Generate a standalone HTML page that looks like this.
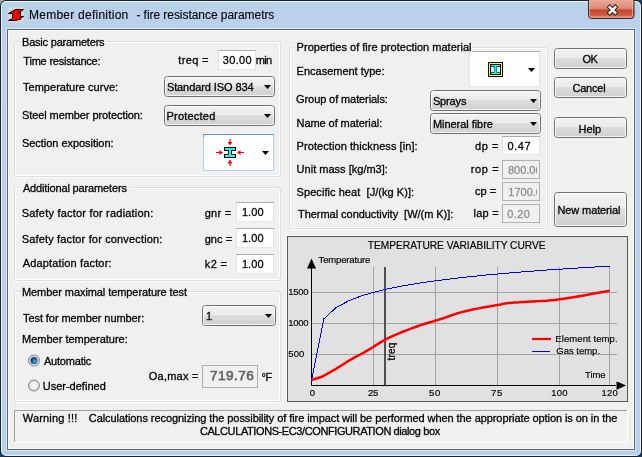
<!DOCTYPE html>
<html><head><meta charset="utf-8"><title>Member definition</title>
<style>
html,body{margin:0;padding:0;background:#1d3b5e;width:642px;height:457px;overflow:hidden}
svg{display:block}
text{font-family:"Liberation Sans",sans-serif;fill:#000;white-space:pre;stroke:#000;stroke-width:0.35px;stroke-opacity:0.8}
</style></head><body>
<svg width="642" height="457" viewBox="0 0 642 457">
<defs>
<linearGradient id="gFrame" x1="0" y1="0" x2="0" y2="1">
<stop offset="0" stop-color="#b6d5e6"/><stop offset="0.008" stop-color="#b6d4e6"/><stop offset="0.012" stop-color="#bad0ea"/><stop offset="0.02" stop-color="#b9d1ea"/><stop offset="1" stop-color="#b9d0ea"/></linearGradient>
<linearGradient id="gBtn" x1="0" y1="0" x2="0" y2="1">
<stop offset="0" stop-color="#f2f2f2"/><stop offset="0.45" stop-color="#ebebeb"/><stop offset="0.5" stop-color="#dddddd"/><stop offset="1" stop-color="#cfcfcf"/></linearGradient>
<linearGradient id="gClose" x1="0" y1="0" x2="0" y2="1">
<stop offset="0" stop-color="#e9a99a"/><stop offset="0.45" stop-color="#d98a78"/><stop offset="0.55" stop-color="#c7462c"/><stop offset="0.8" stop-color="#d0583e"/><stop offset="1" stop-color="#e08c78"/></linearGradient>
<radialGradient id="gRad" cx="0.5" cy="0.5" r="0.5">
<stop offset="0" stop-color="#fbfbfb"/><stop offset="0.6" stop-color="#f0f0f0"/><stop offset="1" stop-color="#d2d2d2"/></radialGradient>
<radialGradient id="gDot" cx="0.6" cy="0.6" r="0.6">
<stop offset="0" stop-color="#5db4ec"/><stop offset="0.55" stop-color="#16619f"/><stop offset="1" stop-color="#0c3a6e"/></radialGradient>
<clipPath id="c_rop"><rect x="503" y="160" width="34" height="19"/></clipPath>
<clipPath id="c_cp"><rect x="503" y="182" width="34" height="19"/></clipPath>
</defs>
<rect width="642" height="457" fill="#1d3b5e"/><path d="M0,0h8v8h-8z" fill="#a9aca8"/><rect x="0" y="0" width="642" height="457" rx="6" fill="#1b232c"/><rect x="1" y="1" width="640" height="455" rx="5" fill="#eaf3fb"/><rect x="2" y="2" width="638" height="453" rx="4" fill="url(#gFrame)"/><rect x="6" y="28" width="630" height="423" fill="#d9e8f6"/><rect x="7" y="29" width="628" height="421" fill="#5b6778"/><rect x="8" y="30" width="626" height="419" fill="#fbfbfb"/><rect x="9" y="31" width="624" height="417" fill="#f0f0f0"/><g transform="translate(8,7)"><rect width="16" height="16" fill="#d3d6da"/><path d="M4.5,5.5h8v7h-8z" fill="#f00" stroke="#000"/><path d="M7.5,2.5h8l-6,4h-9z" fill="#f00" stroke="#000" stroke-linejoin="bevel"/><path d="M8.5,9.5h7l-7,4h-8z" fill="#f00" stroke="#000" stroke-linejoin="bevel"/><path d="M5,6.2h7v5.6h-7z" fill="#f00"/></g><path d="M588.5,0V15.5a3,3 0 0 0 3,3H631a3,3 0 0 0 3,-3V0" fill="url(#gClose)" stroke="#3a2624"/><path d="M589.5,1V15a2,2 0 0 0 2,2H630.5a2,2 0 0 0 2,-2V1" fill="none" stroke="#f2c4b6" stroke-opacity="0.6"/><path d="M608.2,5.6L616.8,14.4M616.8,5.6L608.2,14.4" fill="none" stroke="#3a2220" stroke-width="4.4"/><path d="M608.9,6.3L616.1,13.7M616.1,6.3L608.9,13.7" fill="none" stroke="#fff" stroke-width="2.4"/><rect x="15.5" y="42.5" width="264" height="133" rx="1.5" fill="none" stroke="#ffffff"/><path d="M15,177.5H280" stroke="#fafcfd"/><rect x="14.5" y="41.5" width="266" height="135" rx="2" fill="none" stroke="#d8e0e6"/><rect x="20" y="40" width="87" height="4" fill="#f0f0f0"/><rect x="15.5" y="188.5" width="264" height="91" rx="1.5" fill="none" stroke="#ffffff"/><path d="M15,281.5H280" stroke="#fafcfd"/><rect x="14.5" y="187.5" width="266" height="93" rx="2" fill="none" stroke="#d8e0e6"/><rect x="20" y="186" width="110" height="4" fill="#f0f0f0"/><rect x="15.5" y="292.5" width="264" height="108" rx="1.5" fill="none" stroke="#ffffff"/><path d="M15,402.5H280" stroke="#fafcfd"/><rect x="14.5" y="291.5" width="266" height="110" rx="2" fill="none" stroke="#d8e0e6"/><rect x="20" y="290" width="169" height="4" fill="#f0f0f0"/><rect x="290.5" y="48.5" width="256" height="179" rx="1.5" fill="none" stroke="#ffffff"/><path d="M290,229.5H547" stroke="#fafcfd"/><rect x="289.5" y="47.5" width="258" height="181" rx="2" fill="none" stroke="#d8e0e6"/><rect x="295" y="46" width="177" height="4" fill="#f0f0f0"/><rect x="218" y="50" width="38" height="20" fill="#fff"/><path d="M218,50.5h38" stroke="#abadb3"/><path d="M218.5,51v19M255.5,51v19" stroke="#e2e3ea"/><path d="M219,69.5h36" stroke="#e3e9ef"/><rect x="164.5" y="76.5" width="110" height="20" rx="3" fill="url(#gBtn)" stroke="#707070"/><rect x="165.5" y="77.5" width="108" height="18" rx="2" fill="none" stroke="#fcfcfc" stroke-opacity="0.8"/><path d="M264,85h7l-3.5,4z" fill="#000"/><rect x="164.5" y="105.5" width="110" height="20" rx="3" fill="url(#gBtn)" stroke="#707070"/><rect x="165.5" y="106.5" width="108" height="18" rx="2" fill="none" stroke="#fcfcfc" stroke-opacity="0.8"/><path d="M264,114h7l-3.5,4z" fill="#000"/><rect x="203" y="134" width="71" height="37" fill="#fff"/><path d="M203.5,135V170.5H273.5V135" fill="none" stroke="#b7d0e8"/><path d="M203,134.5H274" stroke="#5f98d0"/><path d="M203.5,134v3" stroke="#7890a8"/><path d="M262,151h7l-3.5,4z" fill="#000"/><g shape-rendering="crispEdges"><rect x="224" y="147" width="12" height="4" fill="#000"/><rect x="224" y="154" width="12" height="4" fill="#000"/><rect x="228" y="151" width="4" height="3" fill="#000"/><rect x="225" y="148" width="10" height="2" fill="#0ff"/><rect x="225" y="155" width="10" height="2" fill="#0ff"/><rect x="229" y="149" width="2" height="7" fill="#0ff"/></g><path d="M230,139v4M230,160v6M216,152.5h4M240,152.5h4" stroke="#f00" stroke-width="1.2"/><path d="M227.5,142h5l-2.5,3.5z M227.5,163.5h5l-2.5,-3.5z M219.5,150l3.5,2.5l-3.5,2.5z M240.5,150l-3.5,2.5l3.5,2.5z" fill="#f00"/><rect x="236" y="202" width="38" height="20" fill="#fff"/><path d="M236,202.5h38" stroke="#abadb3"/><path d="M236.5,203v19M273.5,203v19" stroke="#e2e3ea"/><path d="M237,221.5h36" stroke="#e3e9ef"/><rect x="236" y="228" width="38" height="20" fill="#fff"/><path d="M236,228.5h38" stroke="#abadb3"/><path d="M236.5,229v19M273.5,229v19" stroke="#e2e3ea"/><path d="M237,247.5h36" stroke="#e3e9ef"/><rect x="236" y="254" width="38" height="20" fill="#fff"/><path d="M236,254.5h38" stroke="#abadb3"/><path d="M236.5,255v19M273.5,255v19" stroke="#e2e3ea"/><path d="M237,273.5h36" stroke="#e3e9ef"/><rect x="202.5" y="305.5" width="73" height="20" rx="3" fill="url(#gBtn)" stroke="#707070"/><rect x="203.5" y="306.5" width="71" height="18" rx="2" fill="none" stroke="#fcfcfc" stroke-opacity="0.8"/><path d="M265,314h7l-3.5,4z" fill="#000"/><circle cx="34" cy="360.5" r="5.5" fill="url(#gRad)" stroke="#848585"/><circle cx="34" cy="360.5" r="4.5" fill="none" stroke="#c4c4c4" stroke-opacity="0.7"/><circle cx="34" cy="360.5" r="3.5" fill="url(#gDot)"/><circle cx="34" cy="385.5" r="5.5" fill="url(#gRad)" stroke="#848585"/><circle cx="34" cy="385.5" r="4.5" fill="none" stroke="#c4c4c4" stroke-opacity="0.7"/><rect x="202.5" y="365.5" width="55" height="22" fill="#f0f0f0" stroke="#adb2b5"/><rect x="469" y="51" width="71" height="36" fill="#fff"/><path d="M469,51.5h71" stroke="#abadb3"/><path d="M469.5,52v35M539.5,52v35" stroke="#e2e3ea"/><path d="M470,86.5h69" stroke="#e3e9ef"/><rect x="469" y="50" width="3" height="2" fill="#f0f0f0"/><g><rect x="488" y="62" width="15" height="15" fill="#000"/><rect x="489" y="63" width="13" height="13" fill="#ff0"/><rect x="490" y="64" width="11" height="11" fill="#000"/><rect x="491" y="65" width="9" height="1.3" fill="#0ff"/><rect x="491" y="72.7" width="9" height="1.3" fill="#0ff"/><rect x="494.4" y="66" width="2.2" height="7" fill="#0ff"/><rect x="491" y="67" width="3" height="5" fill="#efe5e5"/><rect x="497" y="67" width="3" height="5" fill="#efe5e5"/></g><path d="M528,68h7l-3.5,4z" fill="#000"/><rect x="430.5" y="90.5" width="110" height="20" rx="3" fill="url(#gBtn)" stroke="#707070"/><rect x="431.5" y="91.5" width="108" height="18" rx="2" fill="none" stroke="#fcfcfc" stroke-opacity="0.8"/><path d="M530,99h7l-3.5,4z" fill="#000"/><rect x="430.5" y="113.5" width="110" height="20" rx="3" fill="url(#gBtn)" stroke="#707070"/><rect x="431.5" y="114.5" width="108" height="18" rx="2" fill="none" stroke="#fcfcfc" stroke-opacity="0.8"/><path d="M530,122h7l-3.5,4z" fill="#000"/><rect x="502" y="136" width="38" height="19" fill="#fff"/><path d="M502,136.5h38" stroke="#abadb3"/><path d="M502.5,137v18M539.5,137v18" stroke="#e2e3ea"/><path d="M503,154.5h36" stroke="#e3e9ef"/><rect x="502.5" y="160.5" width="37" height="18" fill="#f0f0f0" stroke="#adb2b5"/><rect x="502.5" y="182.5" width="37" height="18" fill="#f0f0f0" stroke="#adb2b5"/><rect x="502.5" y="204.5" width="37" height="18" fill="#f0f0f0" stroke="#adb2b5"/><rect x="554.5" y="48.5" width="72" height="20" rx="3" fill="url(#gBtn)" stroke="#707070"/><rect x="555.5" y="49.5" width="70" height="18" rx="2" fill="none" stroke="#fcfcfc" stroke-opacity="0.8"/><rect x="554.5" y="77.5" width="72" height="20" rx="3" fill="url(#gBtn)" stroke="#707070"/><rect x="555.5" y="78.5" width="70" height="18" rx="2" fill="none" stroke="#fcfcfc" stroke-opacity="0.8"/><rect x="554.5" y="117.5" width="72" height="20" rx="3" fill="url(#gBtn)" stroke="#707070"/><rect x="555.5" y="118.5" width="70" height="18" rx="2" fill="none" stroke="#fcfcfc" stroke-opacity="0.8"/><rect x="554.5" y="192.5" width="72" height="34" rx="3" fill="url(#gBtn)" stroke="#707070"/><rect x="555.5" y="193.5" width="70" height="32" rx="2" fill="none" stroke="#fcfcfc" stroke-opacity="0.8"/><path d="M286.5,402V235.5H628" fill="none" stroke="#fafafa"/><rect x="287.5" y="236.5" width="340" height="165" fill="#e1e1e1" stroke="#575757"/><path d="M373.5,267V385M435.5,267V385M497.5,267V385M559.5,267V385M609.5,267V385M311,292.5H617M311,323.5H617M311,354.5H617" stroke="#a3a3a3" fill="none"/><path d="M384,267h2v118h-2z" fill="#505050"/><path d="M311.5,268V385.5H616" fill="none" stroke="#000"/><path d="M307,268.5h9l-4.5,-10z M616,381h0.5v9h-0.5l10,-4.5z" fill="#000"/><polyline points="311.4,381.0 323.8,318.9 336.2,307.5 348.7,300.8 361.1,296.0 373.5,292.3 385.9,289.3 398.4,286.7 410.8,284.5 423.2,282.5 435.6,280.8 448.1,279.2 460.5,277.7 472.9,276.4 485.3,275.1 497.8,274.0 510.2,272.9 522.6,271.9 535.0,270.9 547.5,270.0 559.9,269.2 572.3,268.4 584.8,267.6 597.2,266.9 609.6,266.1" fill="none" stroke="#0000ff" stroke-width="1" shape-rendering="crispEdges"/><polyline points="311.4,380.0 322.0,376.7 323.0,376.1 324.4,375.4 326.1,374.5 327.9,373.4 329.8,372.4 331.8,371.2 333.8,370.1 335.7,369.0 337.5,367.9 339.4,366.7 341.3,365.5 343.2,364.3 345.2,363.1 347.1,361.8 349.1,360.6 351.0,359.5 352.9,358.4 354.7,357.4 356.6,356.4 358.4,355.5 360.3,354.5 362.2,353.5 364.2,352.4 366.3,351.2 368.5,349.9 370.8,348.5 373.2,347.0 375.7,345.4 378.1,343.9 380.5,342.4 382.8,341.0 385.0,339.8 387.0,338.7 388.9,337.8 390.7,336.9 392.4,336.1 394.2,335.3 396.0,334.6 397.9,333.8 400.0,332.9 402.3,332.0 404.6,331.0 407.1,330.1 409.7,329.1 412.3,328.1 414.9,327.2 417.5,326.3 420.0,325.4 422.5,324.6 425.0,323.8 427.5,323.0 430.0,322.3 432.5,321.6 435.0,320.8 437.5,320.1 440.0,319.3 442.5,318.5 445.0,317.6 447.5,316.7 450.0,315.9 452.5,315.0 455.0,314.1 457.5,313.3 460.0,312.6 462.5,311.9 465.1,311.3 467.6,310.7 470.2,310.1 472.7,309.6 475.2,309.1 477.6,308.6 480.0,308.1 482.3,307.6 484.6,307.2 486.9,306.8 489.2,306.4 491.3,306.0 493.4,305.7 495.5,305.3 497.4,305.0 499.2,304.7 500.7,304.4 502.2,304.1 503.5,303.8 504.9,303.6 506.4,303.3 508.1,303.1 510.0,302.9 512.1,302.7 514.3,302.5 516.5,302.4 518.9,302.3 521.5,302.1 524.1,302.0 527.0,301.8 530.0,301.6 533.1,301.4 536.3,301.2 539.5,301.1 543.0,300.9 546.7,300.7 550.6,300.3 555.0,299.9 559.7,299.3 565.3,298.5 571.9,297.4 579.1,296.2 586.5,294.9 593.7,293.6 600.2,292.5 605.6,291.5 609.6,290.8" fill="none" stroke="#ff0000" stroke-width="2.5" stroke-linejoin="round"/><path d="M532,339h19" stroke="#f00" stroke-width="2.2"/><path d="M532,351.5h18" stroke="#00f" stroke-width="1"/><text transform="translate(395.2,360.5) rotate(-90)" style="font-size:10px;letter-spacing:0.2px">treq</text><path d="M14.5,442V410.5H627" fill="none" stroke="#a0a0a0"/><path d="M14,442.5H627.5V410" fill="none" stroke="#ffffff"/>
<text x="29.00" y="19" style="font-size:12px;letter-spacing:0.244px;stroke:#000;stroke-width:0.12px">Member definition</text>
<text x="136.40" y="19" style="font-size:12px;letter-spacing:-0.054px;stroke:#000;stroke-width:0.12px">- fire resistance parametrs</text>
<text x="22.00" y="46" style="font-size:11px;letter-spacing:-0.200px">Basic parameters</text>
<text x="23.30" y="65" style="font-size:11px;letter-spacing:-0.200px">Time resistance:</text>
<text x="178.30" y="64" style="font-size:11px;letter-spacing:0.340px">treq =</text>
<text x="222.70" y="64" style="font-size:11px;letter-spacing:0.375px">30.00</text>
<text x="255.70" y="64" style="font-size:11px;letter-spacing:-0.600px">min</text>
<text x="23.00" y="91" style="font-size:11px;letter-spacing:0.024px">Temperature curve:</text>
<text x="166.90" y="91" style="font-size:11px;letter-spacing:-0.093px">Standard ISO 834</text>
<text x="22.00" y="119" style="font-size:11px;letter-spacing:-0.087px">Steel member protection:</text>
<text x="166.50" y="120" style="font-size:11px;letter-spacing:0.213px">Protected</text>
<text x="22.00" y="147" style="font-size:11px;letter-spacing:-0.044px">Section exposition:</text>
<text x="22.90" y="192" style="font-size:11px;letter-spacing:-0.150px">Additional parameters</text>
<text x="21.70" y="217" style="font-size:11px;letter-spacing:0.207px">Safety factor for radiation:</text>
<text x="21.70" y="243" style="font-size:11px;letter-spacing:0.154px">Safety factor for convection:</text>
<text x="22.70" y="267" style="font-size:11px;letter-spacing:0.153px">Adaptation factor:</text>
<text x="204.70" y="217" style="font-size:11px;letter-spacing:0.275px">gnr =</text>
<text x="204.70" y="243" style="font-size:11px;letter-spacing:0.050px">gnc =</text>
<text x="204.80" y="268" style="font-size:11px;letter-spacing:0.367px">k2 =</text>
<text x="241.90" y="216" style="font-size:11px;letter-spacing:0.100px">1.00</text>
<text x="241.90" y="242" style="font-size:11px;letter-spacing:0.100px">1.00</text>
<text x="241.90" y="268" style="font-size:11px;letter-spacing:0.100px">1.00</text>
<text x="22.00" y="296" style="font-size:11px;letter-spacing:-0.080px">Member maximal temperature test</text>
<text x="23.00" y="322" style="font-size:11px;letter-spacing:-0.073px">Test for member number:</text>
<text x="206.10" y="320" style="font-size:11px">1</text>
<text x="22.00" y="343" style="font-size:11px">Member temperature:</text>
<text x="44.00" y="365" style="font-size:11px;letter-spacing:-0.213px">Automatic</text>
<text x="42.70" y="390" style="font-size:11px;letter-spacing:0.009px">User-defined</text>
<text x="148.80" y="380" style="font-size:11px;letter-spacing:0.229px">Oa,max =</text>
<text x="209.90" y="380" style="font-size:13.6px;letter-spacing:0.480px;fill:#606060;stroke:#606060;stroke-width:0.75px">719.76</text>
<text x="261.60" y="381" style="font-size:11px">°</text>
<text x="265.60" y="381" style="font-size:11px">F</text>
<text x="296.60" y="51" style="font-size:11px;letter-spacing:0.019px">Properties of fire protection material</text>
<text x="296.60" y="75" style="font-size:11px;letter-spacing:-0.007px">Encasement type:</text>
<text x="296.10" y="103" style="font-size:11px;letter-spacing:-0.100px">Group of materials:</text>
<text x="296.60" y="127" style="font-size:11px;letter-spacing:-0.075px">Name of material:</text>
<text x="296.60" y="150" style="font-size:11px;letter-spacing:0.072px">Protection thickness [in]:</text>
<text x="296.60" y="173" style="font-size:11px;letter-spacing:0.012px">Unit mass [kg/m3]:</text>
<text x="296.60" y="196" style="font-size:11px;letter-spacing:0.056px">Specific heat  [J/(kg K)]:</text>
<text x="298.00" y="218" style="font-size:11px;letter-spacing:-0.039px">Thermal conductivity  [W/(m K)]:</text>
<text x="432.90" y="105" style="font-size:11px;letter-spacing:-0.140px">Sprays</text>
<text x="432.90" y="128" style="font-size:11px;letter-spacing:-0.042px">Mineral fibre</text>
<text x="475.00" y="150" style="font-size:11px;letter-spacing:0.600px">dp =</text>
<text x="507.50" y="150" style="font-size:11px;letter-spacing:0.533px">0.47</text>
<text x="470.80" y="173" style="font-size:11px;letter-spacing:0.625px">rop =</text>
<text x="507.90" y="174" clip-path="url(#c_rop)" style="font-size:11px;fill:#8a8a8a;stroke:#8a8a8a;stroke-width:0.3px">800.00</text>
<text x="475.00" y="195" style="font-size:11px;letter-spacing:0.067px">cp =</text>
<text x="508.30" y="196" clip-path="url(#c_cp)" style="font-size:11px;fill:#8a8a8a;stroke:#8a8a8a;stroke-width:0.3px">1700.00</text>
<text x="473.50" y="217" style="font-size:11px;letter-spacing:0.275px">lap =</text>
<text x="507.30" y="218" style="font-size:11px;letter-spacing:0.400px;fill:#8a8a8a;stroke:#8a8a8a;stroke-width:0.3px">0.20</text>
<text x="582.50" y="63" style="font-size:11px;letter-spacing:-0.500px">OK</text>
<text x="572.40" y="92" style="font-size:11px;letter-spacing:-0.200px">Cancel</text>
<text x="578.60" y="133" style="font-size:11px;letter-spacing:-0.033px">Help</text>
<text x="557.50" y="214" style="font-size:11px;letter-spacing:-0.118px">New material</text>
<text x="22.80" y="422" style="font-size:11px;letter-spacing:0.170px">Warning !!!</text>
<text x="88.80" y="422" style="font-size:11px;letter-spacing:-0.073px">Calculations recognizing the possibility of fire impact will be performed when the appropriate option is on in the</text>
<text x="199.90" y="435" style="font-size:11px;letter-spacing:-0.402px">CALCULATIONS-EC3/CONFIGURATION dialog box</text>
<text x="367.80" y="249" style="font-size:10.2px;letter-spacing:-0.014px;stroke:#000;stroke-width:0.2px">TEMPERATURE VARIABILITY CURVE</text>
<text x="318.60" y="263" style="font-size:9.5px;letter-spacing:-0.160px;stroke:#000;stroke-width:0.2px">Temperature</text>
<text x="288.30" y="295" style="font-size:9.5px;letter-spacing:-0.267px;stroke:#000;stroke-width:0.2px">1500</text>
<text x="288.30" y="326" style="font-size:9.5px;letter-spacing:-0.267px;stroke:#000;stroke-width:0.2px">1000</text>
<text x="288.30" y="357" style="font-size:9.5px;letter-spacing:0.100px;stroke:#000;stroke-width:0.2px">500</text>
<text x="309.70" y="396" style="font-size:9.5px;stroke:#000;stroke-width:0.2px">0</text>
<text x="368.00" y="396" style="font-size:9.5px;letter-spacing:-0.400px;stroke:#000;stroke-width:0.2px">25</text>
<text x="429.10" y="396" style="font-size:9.5px;letter-spacing:0.600px;stroke:#000;stroke-width:0.2px">50</text>
<text x="491.00" y="396" style="font-size:9.5px;letter-spacing:0.600px;stroke:#000;stroke-width:0.2px">75</text>
<text x="551.30" y="396" style="font-size:9.5px;letter-spacing:0.200px;stroke:#000;stroke-width:0.2px">100</text>
<text x="601.50" y="396" style="font-size:9.5px;letter-spacing:0.200px;stroke:#000;stroke-width:0.2px">120</text>
<text x="585.10" y="378" style="font-size:9.5px;letter-spacing:-0.100px;stroke:#000;stroke-width:0.2px">Time</text>
<text x="555.30" y="342" style="font-size:9.5px;letter-spacing:0.083px;stroke:#000;stroke-width:0.2px">Element temp.</text>
<text x="556.30" y="354" style="font-size:9.5px;letter-spacing:-0.013px;stroke:#000;stroke-width:0.2px">Gas temp.</text>
</svg>
</body></html>
